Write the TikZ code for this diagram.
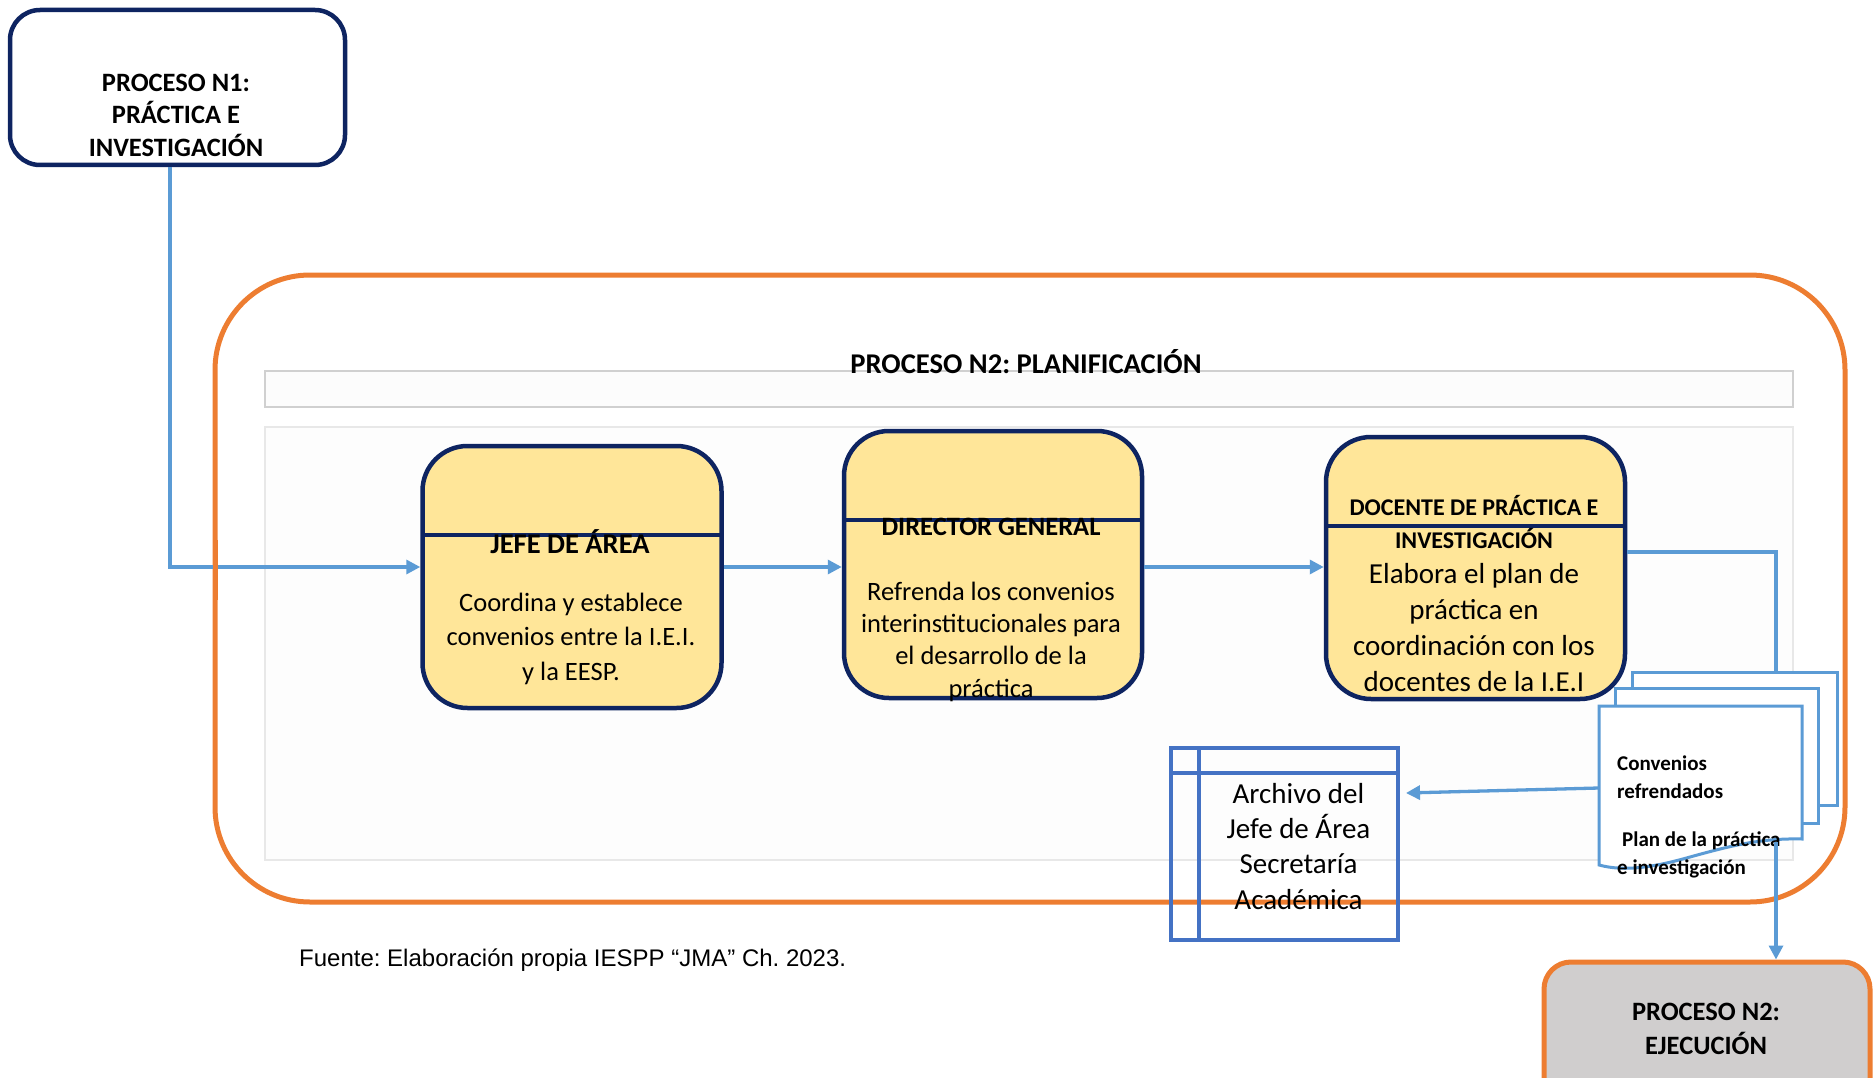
\documentclass[tikz,border=0pt]{standalone}
\usepackage{fontspec}
\setmainfont{Carlito}
\newfontfamily\arialfont{Liberation Sans}
\usetikzlibrary{arrows.meta,calc}
\frenchspacing
\definecolor{navy}{HTML}{0E2461}
\definecolor{boxyellow}{HTML}{FFE699}
\definecolor{flowblue}{HTML}{5B9BD5}
\definecolor{frameorange}{HTML}{ED7D31}
\definecolor{archblue}{HTML}{4472C4}
\definecolor{execgray}{HTML}{D0CECE}
\definecolor{bandgray}{HTML}{D0D0D0}
\definecolor{lanegray}{HTML}{E8E8E8}
\newcommand{\fsz}[2]{\fontsize{#1}{#2}\selectfont}

\begin{document}
\begin{tikzpicture}[x=1pt,y=-1pt,
  rolebox/.style={draw=navy,line width=4.5pt,fill=boxyellow,rounded corners=45pt,
    minimum width=299pt,minimum height=262pt,inner sep=0pt},
  divider/.style={draw=navy,line width=4.5pt},
  flow/.style={draw=flowblue,line width=3.3pt},
  flowarrow/.style={flow,-{Triangle[length=14pt,width=14pt]}},
  docsheet/.style={draw=flowblue,line width=3pt,fill=white,inner sep=0pt},
  label/.style={anchor=base,align=center,inner sep=0pt},
  roletitle/.style={label,font=\bfseries\fsz{26.5}{32}},
]
\useasboundingbox (0,0) rectangle (1874,1078);

% process N1 (source); multi-line labels are placed by their last baseline
\node[draw=navy,line width=4.5pt,fill=white,rounded corners=30pt,
      minimum width=335pt,minimum height=155pt] (n1) at (177.5,87.5) {};
\node[label,font=\bfseries\fsz{26.5}{32.5}] (n1text) at (176,156.5)
  {PROCESO N1:\\PRÁCTICA E\\INVESTIGACIÓN};

% planning frame, header band and lane
\node[draw=frameorange,line width=5pt,rounded corners=95pt,
      minimum width=1630pt,minimum height=627pt] (frame) at (1030,588.5) {};
\node[draw=bandgray,fill=white!99!black,line width=1.5pt,
      minimum width=1528pt,minimum height=36pt] (band) at (1029,389) {};
\node[draw=lanegray,fill=white!99.2!black,line width=1.5pt,
      minimum width=1528pt,minimum height=433pt] (lane) at (1029,643.5) {};
\node[label,font=\bfseries\fsz{28.6}{32}] (title) at (1026,373)
  {PROCESO N2: PLANIFICACIÓN};

% role boxes
\node[rolebox] (jefe) at (572,577) {};
\draw[divider] (422.5,535) -- (721.5,535);
\node[label,font=\bfseries\fsz{28.5}{32}] (jefetitle) at (570,553) {JEFE DE ÁREA};
\node[label,font=\fsz{26.5}{34.5}] (jefebody) at (571,680)
  {Coordina y establece\\convenios entre la I.E.I.\\y la EESP.};

\node[rolebox,minimum width=298pt,minimum height=267pt] (director) at (993,564.5) {};
\draw[divider] (844,520) -- (1142,520);
\node[roletitle] (dirtitle) at (991,535) {DIRECTOR GENERAL};
\node[label,font=\fsz{26.5}{32.3}] (dirbody) at (991,697)
  {Refrenda los convenios\\interinstitucionales para\\el desarrollo de la\\práctica};

\node[rolebox] (docente) at (1475.5,568) {};
\draw[divider] (1326,526) -- (1625,526);
\node[label,font=\bfseries\fsz{24}{33}] (doctitle) at (1474,548)
  {DOCENTE DE PRÁCTICA E\\INVESTIGACIÓN};
\node[label,font=\fsz{29}{36}] (docbody) at (1474,691)
  {Elabora el plan de\\práctica en\\coordinación con los\\docentes de la I.E.I};

% connector helpers
\coordinate (rowy) at (0,567);
\coordinate (n1drop) at (170,0);
\coordinate (outy) at (0,552);
\coordinate (docdrop) at (1776,0);

% documents stack
\node[docsheet,minimum width=205pt,minimum height=133pt] (docback) at (1734.5,738.5) {};
\node[docsheet,minimum width=203pt,minimum height=135pt] (docmid) at (1716.5,755.5) {};
\filldraw[draw=flowblue,line width=3pt,fill=white]
  (1599,706) -- (1802,706) -- (1802,839)
  .. controls (1760,838) and (1730,846) .. (1690,857)
  .. controls (1655,867) and (1625,872) .. (1599,865) -- cycle;
\coordinate (docfrontleft) at (1599,788);
\coordinate (docfrontbottom) at (1776,842);
\node[anchor=base west,align=left,inner sep=0pt,font=\bfseries\fsz{21}{28}] (convtext)
  at (1617,798) {Convenios\\refrendados};
\node[anchor=base west,align=left,inner sep=0pt,font=\bfseries\fsz{21}{28}] (plantext)
  at (1617,874.7) {\hspace*{5pt}Plan de la práctica\\e investigación};

% archive
\node[draw=archblue,line width=3.5pt,minimum width=227pt,minimum height=192pt] (archivo)
  at (1284.5,844) {};
\draw[archblue,line width=3.5pt] (1199,748) -- (1199,940);
\draw[archblue,line width=3.5pt] (1171,773) -- (1398,773);
\node[label,font=\fsz{29}{35.3}] (archtext) at (1298.5,909)
  {Archivo del\\Jefe de Área\\Secretaría\\Académica};
\coordinate (archin) at (1406,793);

% process N2 execution (target)
\node[draw=frameorange,line width=5pt,fill=execgray,rounded corners=27pt,
      minimum width=326pt,minimum height=150pt] (ejec) at (1707,1037) {};
\node[label,font=\bfseries\fsz{26.5}{34}] (ejectext) at (1706,1054)
  {PROCESO N2:\\EJECUCIÓN};

% flow connectors
\draw[flowarrow] (n1.south -| n1drop) |- (jefe.west |- rowy);
\draw[flowarrow] (jefe.east |- rowy) -- (director.west |- rowy);
\draw[flowarrow] (director.east |- rowy) -- (docente.west |- rowy);
\draw[flow] (docente.east |- outy) -| (docback.north -| docdrop);
\draw[flowarrow] (docfrontleft) -- (archin);
\draw[flowarrow] (docfrontbottom) -- (ejec.north -| docfrontbottom);

% the frame's left side passes over the incoming connector
\draw[frameorange,line width=5pt] (215,540) -- (215,600);

% source note
\node[anchor=base west,inner sep=0pt,font=\arialfont\fsz{24}{28}] (fuente) at (299,966.5)
  {Fuente: Elaboración propia IESPP “JMA” Ch. 2023.};
\end{tikzpicture}
\end{document}
